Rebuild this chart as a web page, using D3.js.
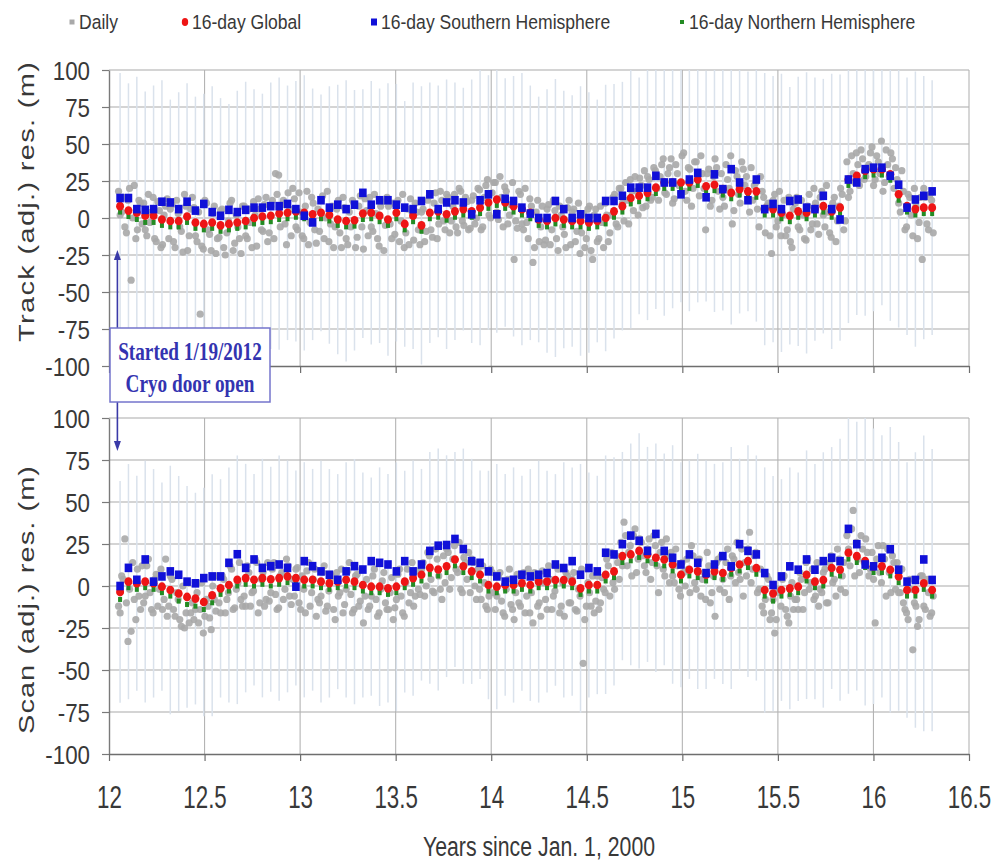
<!DOCTYPE html>
<html>
<head>
<meta charset="utf-8">
<script src="https://cdn.jsdelivr.net/npm/d3@7"></script>
<style>
  body { margin: 0; background: #fff; }
  svg { display: block; }
</style>
</head>
<body>
<svg id="chart" width="997" height="865"></svg>
<script>
// ---- sampling -------------------------------------------------------------
const first16 = 12.058;            // centre of the first 16-day window (years since 2000)
const step16 = 16 / 365.25;        // 16-day cadence
const dailyStart = 12.05;          // first daily sample plotted
const dailyStep = 6 / 365.25;      // each daily list holds one residual every 6 days
const dailyOffset = 3 / 365.25;    // the second daily list sits 3 days later
const cryoDoorOpen = 12 + 18 / 366; // 1/19/2012

const xTicks = [12, 12.5, 13, 13.5, 14, 14.5, 15, 15.5, 16, 16.5];
const yTicks = [-100, -75, -50, -25, 0, 25, 50, 75, 100];

const legendLabels = ["Daily", "16-day Global", "16-day Southern Hemisphere", "16-day Northern Hemisphere"];

// ---- Track residuals (m) ----------------------------------------------------
const trackGlobal = [
  8, 5, 3.5, 1.5, 1.5, -1, -2, -2, 1, -3,
  -4, -3, -5, -4, -3, -2, 0, 1, 1.5, 3,
  3.5, 4.5, 3.5, 2.5, 3.5, 2, -1, -2, -1.5, 3,
  3.5, 1.5, -1, 3.5, -4, 1.5, -5, 3.5, 4.5, 2.5,
  4.5, 6, 4.5, 7, 10.5, 12.5, 10.5, 8, 6, 3.5,
  -1, -2, 0, -1, -2, -2, -3, -2, 0, 4.5,
  8, 13.5, 15, 17, 20.5, 24, 24, 24, 24, 26,
  21.5, 22.5, 19.5, 17, 19.5, 18, 18, 6, 6, 3.5,
  1.5, 4.5, 3.5, 6, 8, 4.5, 7, 26, 28.5, 32,
  33, 33, 29.5, 16, 8, 6, 7, 7
];
const trackSouth = [
  13.5, 13.5, 6, 5.5, 6, 11, 10.5, 6, 11, 5,
  9.5, 4, 1.5, 5.5, 4, 5.5, 7, 7, 8, 8,
  9.5, 6, 1.5, -3, 12, 7, 9, 6, 9, 17,
  9, 12, 12, 9, 7, 6, 11.5, 16, 6, 10.5,
  12, 10.5, 2.5, 12, 16, 2.5, 13, 11.5, 7, 3,
  0, 0, 11.5, 6, 0, 2.5, 0, 0, 11.5, 11.5,
  15, 20.5, 20.5, 20.5, 28.5, 24, 24, 16, 26, 30.5,
  14, 29.5, 19.5, 33, 24, 12, 26, 6, 9.5, 6,
  11.5, 12.5, 7, 6, 15, 6, -1, 26, 24, 33,
  34, 34, 28.5, 22.5, 7, 12.5, 15, 18
];
const trackNorth = [
  4, 1, -1, -3, -3, -5, -6, -6, -3, -7,
  -8, -7, -9, -8, -7, -6, -4, -3, -2.5, -1,
  -0.5, 0.5, -0.5, -1.5, -0.5, -2, -5, -6, -5.5, -1,
  -0.5, -2.5, -5, -0.5, -8, -2.5, -9, -0.5, 0.5, -1.5,
  0.5, 2, 0.5, 3, 6.5, 8.5, 6.5, 4, 2, -0.5,
  -5, -6, -4, -5, -6, -6, -7, -6, -4, 0.5,
  4, 9.5, 11, 13, 16.5, 20, 20, 20, 20, 22,
  17.5, 18.5, 15.5, 13, 15.5, 14, 14, 2, 2, -0.5,
  -2.5, 0.5, -0.5, 2, 4, 0.5, 3, 22, 24.5, 28,
  29, 29, 25.5, 12, 4, 2, 3, 3
];
// spread of the daily residuals within each 16-day window
const trackSpread = [
  90, 86, 92, 84, 88, 94, 82, 87, 90, 85,
  88, 92, 86, 81, 89, 94, 87, 83, 90, 92,
  86, 88, 93, 85, 80, 87, 91, 95, 88, 84,
  89, 86, 92, 87, 83, 90, 94, 88, 85, 91,
  87, 82, 89, 93, 86, 90, 84, 88, 92, 86,
  83, 89, 94, 87, 85, 91, 88, 82, 90, 86,
  84, 88, 80, 86, 82, 90, 85, 81, 87, 83,
  78, 86, 82, 89, 84, 81, 88, 92, 90, 94,
  87, 91, 95, 89, 86, 93, 90, 97, 94, 98,
  96, 92, 99, 90, 87, 93, 89, 86
];
const trackDaily = [
  18, 4, -6, 12, -42, 22, -8, 10,
  10, -12, -3, 14, -16, 5, -18, 8,
  -14, 9, -20, 3, -9, 16, -22, 6,
  7, -16, -65, -21, 10, -11, 3, -24,
  -13, 6, -25, -2, 12, -17, -6, -24,
  8, -14, -3, 11, -19, 6, -9, 14,
  -10, 12, 30, 29, 9, -4, 17, -12,
  13, -8, 4, -14, 18, -3, 10, -17,
  -9, 15, 0, -16, 8, -6, 12, -20,
  7, -18, -6, 10, -13, 15, -21, 5,
  14, -9, 3, -19, 11, -5, 8, -14,
  -11, 12, -2, -20, 6, 13, -15, 4,
  -18, 6, -9, 15, -13, 17, -4, 12,
  -8, 14, -2, 16, -10, 18, -5, 11,
  -7, 15, 0, 19, -6, 22, 2, 17,
  24, -1, 14, 21, -4, 9, -28, -7,
  16, -8, -3, 13, -30, 4, -16, 8,
  -15, 9, -8, 5, -22, 2, -11, 7,
  -18, 6, -9, -24, 3, -14, 8, -28,
  6, -14, -3, 10, -16, 2, 16, -6,
  20, -2, 12, 26, 5, 18, 27, 7,
  8, 26, 14, 32, 12, 36, 17, 30,
  40, 13, 30, 17, 44, 12, 33, 20,
  38, 15, 30, -8, 33, 12, 40, 18,
  30, 8, 26, 42, 5, 28, 10, 33,
  28, 4, 12, 24, -6, 18, -10, 10,
  -24, 16, -2, -12, 12, -8, -16, 6,
  14, -8, 2, -15, 16, -4, 10, -11,
  18, -6, 4, -13, 14, -2, 20, -8,
  38, 18, 30, 44, 22, 40, 28, 36,
  48, 26, 38, 52, 24, 36, 44, 20,
  26, 4, 18, -6, 14, -12, 8, -3,
  -28, 14, -8, 12
];
const trackDailyB = [
  2, 14, -10, 20, 0, -14, 12, -4,
  -8, 16, 4, -14, 11, -20, 2, 13,
  6, -16, 12, -6, -23, 8, -12, 14,
  -12, 4, -19, 12, -8, -22, 8, -14,
  5, -20, -10, 10, -22, 2, -14, 8,
  -12, 6, -20, 2, 13, -8, 9, -16,
  8, -14, 16, -6, 12, -18, 6, 20,
  -6, 17, -12, 8, -18, 14, -8, 6,
  12, -14, 18, -4, -20, 6, -10, 14,
  -14, 4, 12, -20, 8, -6, 13, -12,
  -6, 16, -14, 8, -22, 14, -4, 10,
  8, -16, 16, -10, -18, 4, 10, -8,
  4, -16, 12, -8, 10, -14, 18, -2,
  16, -10, 8, -6, 20, -2, 14, -8,
  12, -4, 20, -8, 14, 26, 0, 24,
  4, 28, -6, 18, 2, 24, -2, 18,
  -4, 20, -14, 8, -20, 12, -6, -18,
  6, -18, 12, -14, 8, -6, -20, 12,
  4, -16, 10, -10, -20, 6, -22, 2,
  -16, 8, -20, 2, -10, 14, -4, 20,
  10, 24, -4, 18, 28, 2, 22, 32,
  28, 12, 34, 20, 28, 40, 16, 34,
  10, 36, 22, 42, 18, 34, 8, 38,
  28, 42, 20, 30, 8, 28, 34, 6,
  14, 36, 20, -4, 32, 16, 38, 22,
  12, 34, 22, 6, 28, 14, 8, -12,
  12, -6, 18, 2, -12, 14, -20, 10,
  -6, 12, -14, 8, -8, 20, -4, 14,
  2, 22, -10, 10, -16, 8, 16, -2,
  14, 42, 24, 36, 46, 26, 34, 44,
  22, 42, 30, 18, 46, 28, 40, 34,
  10, 32, -8, 16, 2, 20, -14, 14,
  20, -4, 16, -10
];

// ---- Scan residuals (m) -----------------------------------------------------
const scanGlobal = [
  -3.5, 2.6, 1.6, 2.6, 1.6, -0.4, -2.4, -4.5, -6.5, -7.5,
  -9.5, -5.5, -1.4, 0.6, 3.7, 4.7, 3.7, 4.7, 4, 4.7,
  5.7, 4.7, 3.7, 3.7, 2.6, 1.6, 2.6, 3.7, 2.6, 0.6,
  -0.4, -0.4, -1.4, -0.4, 2.6, 4.7, 6.7, 10.8, 9.8, 11.8,
  15.8, 11.8, 8.7, 6.7, 0.6, -0.4, 0.6, 0.6, 1.6, 0.6,
  2.6, 2.6, 3.6, 3.6, 2.6, -1.4, 0.6, 0.6, 6.7, 8.7,
  17.8, 18.8, 20.9, 18.8, 16.8, 15.8, 12.8, 6.7, 9.7, 8.7,
  6.7, 8.7, 7.7, 10.7, 12.8, 14.8, 10.7, -2.4, -4.5, -2.4,
  -1.4, -0.4, 6.7, 2.6, 3.6, 10.7, 9.7, 19.8, 17.8, 14.8,
  11.7, 11.7, 9.7, 5.7, -2.4, -2.4, 1.6, -2.4
];
const scanSouth = [
  0, 10.8, 3.7, 15.8, 2.6, 5.7, 8.7, 6.7, 2.6, 1.6,
  4.7, 5.7, 5.7, 13.8, 18.9, 10.8, 15.8, 10.8, 11.8, 12.8,
  10.8, -0.4, 14.8, 11.8, 8.7, 6.7, 3.7, 8.7, 11.8, 9.8,
  14.8, 13.8, 12.8, 8.7, 14.8, 8.7, 12.8, 20.9, 24, 24.4,
  28, 22, 14.8, 13.8, 8.7, 5.7, 2.6, 3.7, 6.7, 5.7,
  6.7, 7.7, 12.8, 10.7, 14.8, 6.7, 10.7, 8.7, 19.8, 18.8,
  24.9, 30, 26.9, 20.9, 31, 20.9, 16.8, 12.8, 18.8, 13.8,
  7.7, 12.8, 17.8, 11.7, 24.9, 20.9, 18.8, 7.7, 0.6, 5.7,
  11.7, 9.7, 15.8, 9.7, 14.8, 16.8, 14.8, 34, 24.9, 12.8,
  11.7, 16.8, 21.9, 9.7, 2.6, 3.6, 15.8, 3.6
];
const scanNorth = [
  -8, -1, -2, -1, -2, -4, -6, -9, -11, -12,
  -14, -10, -5, -3, 0, 1, 0, 1, 0, 1,
  2, 1, 0, 0, -1, -2, -1, 0, -1, -3,
  -4, -4, -5, -4, -1, 1, 3, 7, 6, 8,
  12, 8, 5, 3, -3, -4, -3, -3, -2, -3,
  -1, -1, 0, 0, -1, -5, -3, -3, 3, 5,
  14, 15, 17, 15, 13, 12, 9, 3, 6, 5,
  3, 5, 4, 7, 9, 11, 7, -6, -9, -6,
  -5, -4, 3, -1, 0, 7, 6, 16, 14, 11,
  8, 8, 6, 2, -6, -6, -2, -6
];
const scanSpread = [
  66, 70, 64, 72, 68, 62, 74, 70, 66, 63,
  68, 72, 65, 70, 74, 68, 63, 71, 67, 73,
  69, 64, 70, 66, 72, 68, 64, 70, 73, 67,
  65, 71, 68, 74, 66, 70, 63, 69, 72, 66,
  64, 70, 67, 62, 68, 73, 66, 70, 64, 69,
  72, 66, 63, 70, 68, 74, 67, 65, 71, 68,
  62, 66, 70, 64, 68, 63, 71, 67, 65, 70,
  68, 64, 66, 72, 63, 69, 67, 73, 70, 66,
  72, 68, 74, 70, 76, 72, 78, 84, 80, 86,
  82, 78, 85, 80, 76, 82, 88, 84
];
const scanDaily = [
  -12, 6, 28, -33, -27, -8, 10, -14,
  -10, 12, -4, -16, 7, -2, -14, 16,
  -12, 4, -18, -8, -24, -25, 2, -16,
  -20, -4, -14, -28, -8, -19, 0, -15,
  -10, 6, -16, -4, 10, -13, 2, -8,
  -6, 12, -12, -3, 14, -10, 8, -8,
  -9, 10, -5, -13, 8, -2, 12, -11,
  -6, 11, -14, -2, 9, -12, 4, -18,
  -10, 8, -15, -3, 6, -20, -6, 10,
  -11, 9, -5, -14, 7, -9, -22, 4,
  -12, 6, -8, -16, 3, -10, -14, 5,
  -13, 7, -6, -18, 10, -4, -12, 9,
  -5, 14, 0, 18, -3, 22, 6, -8,
  2, 20, 5, 24, 8, -2, 17, 4,
  -4, 14, -8, -2, 12, -12, -6, 8,
  -14, 6, -9, -18, 4, -11, -20, 7,
  -12, 8, -6, -16, -22, 5, -10, 9,
  -8, 12, -14, -3, 10, -12, -18, 6,
  -10, 8, -15, -6, -46, -12, -4, 6,
  -9, -14, 5, -4, 12, 20, -2, 14,
  26, 38, 12, 24, 30, 8, 28, 18,
  8, 28, 14, 24, -4, 26, 6, 18,
  20, 2, 12, -6, 8, 16, -4, 18,
  -2, 16, 4, -8, 12, -4, -18, 16,
  18, -4, 22, 6, 16, 26, 4, -6,
  6, 32, 10, 20, -2, -12, -8, 4,
  -16, -28, -2, -12, 6, -18, -6, -14,
  -8, 8, -14, 14, -2, 10, -6, -12,
  -4, 10, -10, 18, 4, 22, -2, 14,
  30, 12, 45, 26, 8, 22, 28, 6,
  20, -22, 24, 2, 16, 22, -4, 14,
  14, -4, -10, -16, 4, -38, -12, -20,
  6, -14, -4, -16
];
const scanDailyB = [
  -16, 4, -10, -2, 14, -20, -6, 12,
  -6, 16, -14, 4, -12, 10, -8, -18,
  6, -14, -4, -20, 0, -16, -22, -10,
  -14, -22, 2, -18, -12, -26, -8, 6,
  -16, 4, -8, 12, -14, -2, 14, -12,
  -12, 8, -4, 16, -16, 4, -12, 14,
  -4, 14, -14, 6, -8, 16, -6, 4,
  10, -10, 6, -16, 14, -4, 10, -8,
  -6, 12, -12, 4, -14, 8, -4, -16,
  -2, 14, -16, 6, -12, 10, -6, -14,
  -6, 10, -18, -2, 8, -14, -4, -20,
  -8, 10, -16, 2, -10, 14, -6, -2,
  10, -6, 20, 4, -4, 16, -2, 18,
  22, -2, 16, 10, 26, -4, 14, 20,
  16, 0, 10, -8, 2, -14, 10, -4,
  -6, 8, -16, -2, 10, -14, -4, -10,
  4, -16, 10, -4, 8, -12, -18, 2,
  -14, 4, -6, 12, -16, 2, 8, -10,
  4, -14, -2, 10, -20, 2, -12, -16,
  6, -10, -2, 16, -6, 2, 18, 4,
  12, 30, 20, 6, 34, 16, 26, 12,
  22, 4, 30, 12, 20, 10, 28, 2,
  6, 22, -2, 14, 0, 10, 24, 2,
  14, -6, 8, 20, -10, 6, 14, -2,
  4, 14, -8, 18, 2, 8, 22, 14,
  22, 2, 18, -4, 10, -16, 6, -20,
  -8, -20, -4, 4, -14, -22, 2, -8,
  -14, 4, -4, 16, 2, -8, 14, -2,
  8, -10, 14, 2, -6, 16, 6, -4,
  22, 34, 6, 16, 30, 14, 20, 10,
  4, 16, 8, 24, -6, 8, 18, -2,
  -4, 10, -14, -20, -2, -10, -24, 6,
  -12, 4, -18, -6
];

// ---- drawing ---------------------------------------------------------------
const svg = d3.select("#chart");
const FONT = "'Liberation Sans', Arial, sans-serif";
const TEXT = "#383838";
const COLORS = { daily: "#a9a9a9", global: "#ee1515", south: "#1010d8", north: "#238b23" };

const x = d3.scaleLinear().domain([12, 16.5]).range([109, 969]);

const panels = [
  { title: "Track (adj.) res. (m)", top: 70, bottom: 366,
    daily: [trackDaily, trackDailyB],
    global: trackGlobal, south: trackSouth, north: trackNorth, spread: trackSpread,
    titleY: 202, titleLen: 280, labels: false },
  { title: "Scan (adj.) res. (m)", top: 418, bottom: 754,
    daily: [scanDaily, scanDailyB],
    global: scanGlobal, south: scanSouth, north: scanNorth, spread: scanSpread,
    titleY: 600, titleLen: 268, labels: true }
];

panels.forEach(p => {
  const y = d3.scaleLinear().domain([-100, 100]).range([p.bottom, p.top]);
  const g = svg.append("g");
  const t16 = p.global.map((_, i) => first16 + i * step16);

  // grid
  g.append("g").selectAll("line").data(yTicks.filter(v => v > -100)).join("line")
    .attr("x1", x(12)).attr("x2", x(16.5))
    .attr("y1", d => y(d)).attr("y2", d => y(d))
    .attr("stroke", "#a9a9a9").attr("stroke-width", 1.2);
  g.append("g").selectAll("line").data(xTicks.filter(v => v > 12)).join("line")
    .attr("x1", d => x(d)).attr("x2", d => x(d))
    .attr("y1", y(100)).attr("y2", y(-100))
    .attr("stroke", "#b4b4b4").attr("stroke-width", 1.1);

  // spread of the daily residuals around each 16-day mean
  g.append("g").selectAll("line").data(p.global).join("line")
    .attr("x1", (d, i) => x(t16[i])).attr("x2", (d, i) => x(t16[i]))
    .attr("y1", (d, i) => y(Math.min(100, d + p.spread[i])))
    .attr("y2", (d, i) => y(Math.max(-100, d - p.spread[i])))
    .attr("stroke", "#dae2ec").attr("stroke-width", 1.5);

  // daily residuals (two interleaved lists, 3 days apart)
  p.daily.forEach((list, j) => {
    g.append("g").selectAll("circle").data(list).join("circle")
      .attr("cx", (d, k) => x(dailyStart + j * dailyOffset + k * dailyStep))
      .attr("cy", d => y(d))
      .attr("r", 3.6).attr("fill", COLORS.daily).attr("fill-opacity", 0.9);
  });

  // 16-day means
  g.append("g").selectAll("rect").data(p.north).join("rect")
    .attr("x", (d, i) => x(t16[i]) - 2).attr("y", d => y(d) - 2.5)
    .attr("width", 4).attr("height", 5).attr("fill", COLORS.north);
  g.append("g").selectAll("ellipse").data(p.global).join("ellipse")
    .attr("cx", (d, i) => x(t16[i])).attr("cy", d => y(d))
    .attr("rx", 4).attr("ry", 4.3).attr("fill", COLORS.global);
  g.append("g").selectAll("rect").data(p.south).join("rect")
    .attr("x", (d, i) => x(t16[i]) - 3.8).attr("y", d => y(d) - 4.3)
    .attr("width", 7.6).attr("height", 8.6).attr("fill", COLORS.south);

  // y axis
  const ya = g.append("g").attr("transform", `translate(${x(12)},0)`)
    .call(d3.axisLeft(y).tickValues(yTicks).tickSize(7).tickSizeOuter(0).tickFormat(d => String(d)));
  ya.select(".domain").attr("stroke", "#7a7a7a").attr("stroke-width", 1.4);
  ya.selectAll(".tick line").attr("stroke", "#7a7a7a").attr("stroke-width", 1.2);
  ya.selectAll(".tick text")
    .attr("x", 0).attr("dy", "0.35em")
    .attr("transform", "translate(-19,0) scale(0.86,1)")
    .attr("font-family", FONT).attr("font-size", 26).attr("fill", TEXT);

  // x axis
  const xa = g.append("g").attr("transform", `translate(0,${p.bottom})`)
    .call(d3.axisBottom(x).tickValues(xTicks).tickSize(7).tickSizeOuter(0)
      .tickFormat(p.labels ? (d => String(d)) : ""));
  xa.select(".domain").attr("stroke", "#6e6e6e").attr("stroke-width", 1.6);
  xa.selectAll(".tick line").attr("stroke", "#6e6e6e").attr("stroke-width", 1.2);
  xa.selectAll(".tick text")
    .attr("y", 0).attr("dy", 0)
    .attr("transform", "translate(0,54) scale(0.72,1)")
    .attr("font-family", FONT).attr("font-size", 31).attr("fill", TEXT);

  // y title
  svg.append("text")
    .attr("transform", `translate(34,${p.titleY}) scale(0.74,1) rotate(-90)`)
    .attr("text-anchor", "middle")
    .attr("font-family", FONT).attr("font-size", 29).attr("fill", TEXT)
    .attr("textLength", p.titleLen).attr("lengthAdjust", "spacing")
    .text(p.title);
});

// x title
svg.append("text")
  .attr("transform", `translate(${x(14.25)},856) scale(0.76,1)`)
  .attr("text-anchor", "middle")
  .attr("font-family", FONT).attr("font-size", 28).attr("fill", TEXT)
  .text("Years since Jan. 1, 2000");

// legend
const legendX = [72, 185, 374, 682];
const legend = svg.append("g");
legendLabels.forEach((label, i) => {
  const lx = legendX[i];
  const cy = 22;
  if (i === 0) legend.append("rect").attr("x", lx - 2.5).attr("y", cy - 2.5).attr("width", 5).attr("height", 5).attr("fill", COLORS.daily);
  if (i === 1) legend.append("ellipse").attr("cx", lx).attr("cy", cy).attr("rx", 3.2).attr("ry", 4).attr("fill", COLORS.global);
  if (i === 2) legend.append("rect").attr("x", lx - 3).attr("y", cy - 3.5).attr("width", 6).attr("height", 7).attr("fill", COLORS.south);
  if (i === 3) legend.append("rect").attr("x", lx - 2).attr("y", cy - 2).attr("width", 4).attr("height", 4).attr("fill", COLORS.north);
  legend.append("text")
    .attr("transform", `translate(${lx + 7},29) scale(0.9,1)`)
    .attr("font-family", FONT).attr("font-size", 19.5).attr("fill", TEXT)
    .text(label);
});

// annotation: cryo door opening
const ax = x(cryoDoorOpen) - 1;
const ann = svg.append("g");
const arrowColor = "#3a3aa8";
ann.append("line").attr("x1", ax).attr("x2", ax).attr("y1", 328).attr("y2", 258)
  .attr("stroke", arrowColor).attr("stroke-width", 1.6);
ann.append("path").attr("d", `M${ax},250 L${ax - 3.5},260 L${ax + 3.5},260 Z`).attr("fill", arrowColor);
ann.append("line").attr("x1", ax).attr("x2", ax).attr("y1", 402).attr("y2", 442)
  .attr("stroke", arrowColor).attr("stroke-width", 1.6);
ann.append("path").attr("d", `M${ax},451 L${ax - 3.5},441 L${ax + 3.5},441 Z`).attr("fill", arrowColor);
ann.append("rect").attr("x", 110).attr("y", 328).attr("width", 160).attr("height", 74)
  .attr("fill", "#fff").attr("stroke", "#7474cc").attr("stroke-width", 1.5);
[["Started 1/19/2012", 360], ["Cryo door open", 392]].forEach(([s, by]) => {
  ann.append("text")
    .attr("transform", `translate(190,${by}) scale(0.74,1)`)
    .attr("text-anchor", "middle")
    .attr("font-family", "'Liberation Serif', 'Times New Roman', serif")
    .attr("font-weight", "bold").attr("font-size", 26).attr("fill", "#3333b0")
    .text(s);
});
</script>
</body>
</html>
